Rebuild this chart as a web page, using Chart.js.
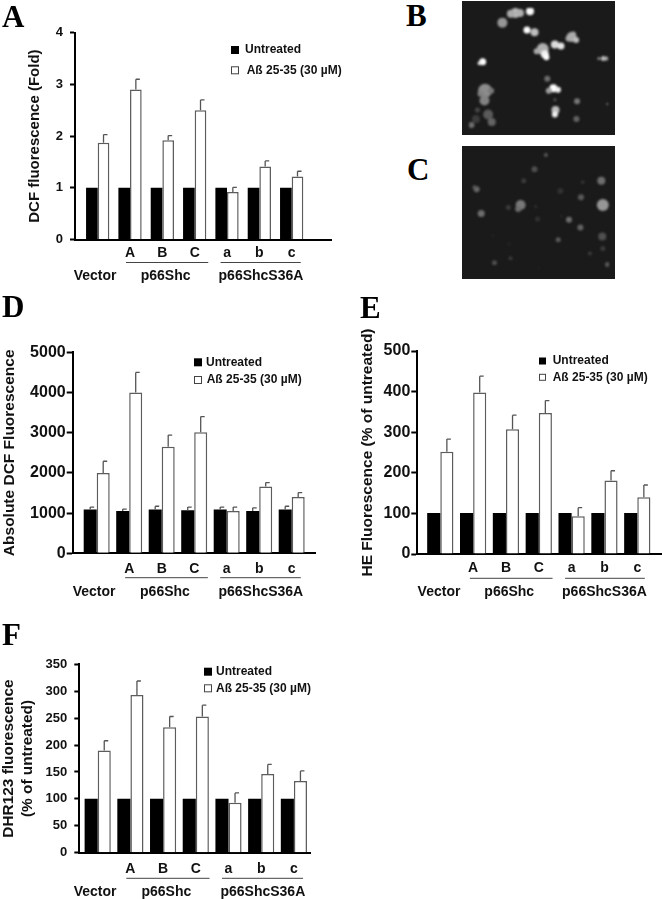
<!DOCTYPE html>
<html><head><meta charset="utf-8">
<script src="https://cdn.jsdelivr.net/npm/chart.js@4"></script>
<style>
html,body{margin:0;padding:0;background:#fff;width:662px;height:899px;overflow:hidden}
canvas{position:absolute;display:block}
.letter{position:absolute;font:bold 31px "Liberation Serif",serif;color:#000;line-height:31px;transform-origin:0 100%}
.micro{position:absolute;background:#1a1a1a;overflow:hidden;border:0}
.micro canvas{filter:blur(1.3px);left:0;top:0}
</style></head><body>
<script>
const tickLabels=['','A','B','C','a','b','c'];
const seriesNames=['Untreated','A\u00DF 25-35 (30 \u00B5M)'];
const groupNames=['Vector','p66Shc','p66ShcS36A'];

const aUntreated=[1,1,1,1,1,1,1];
const aTreated=[1.87,2.9,1.92,2.5,0.92,1.41,1.22];
const aTreatedTop=[2.03,3.1,2.01,2.7,1.01,1.52,1.32];

const dUntreated=[1090,1050,1090,1070,1090,1050,1090];
const dUntreatedTop=[1150,1100,1170,1150,1150,1130,1170];
const dTreated=[2000,4000,2650,3010,1050,1660,1400];
const dTreatedTop=[2290,4500,2940,3400,1150,1760,1510];

const eUntreated=[101,101,101,101,101,101,101];
const eTreated=[252,398,307,347,93,181,140];
const eTreatedTop=[283,438,342,378,114,205,170];

const fUntreated=[100,100,100,100,100,100,100];
const fTreated=[190,293,233,253,93,146,133];
const fTreatedTop=[208,319,253,274,111,164,152];

// micrograph spots: x, y, radius, grey level
const bSpots=[[340,20,5,185],[325,22,4,170],[355,20,4,175],[388,14,4,250],[297,52,5,150],[378,77,3.5,255],[403,84,4,190],[525,100,5,170],[530,92,3,170],[540,110,3,190],[515,105,3,170],[470,125,4,220],[490,130,3.5,230],[430,140,6,175],[410,148,3,170],[437,158,4,240],[442,168,3,255],[232,183,3.5,255],[222,188,2,230],[630,172,2.5,190],[615,172,1.5,150],[640,172,2,170],[445,240,3,110],[465,272,4,255],[480,277,3,240],[450,280,3,160],[470,310,1.5,90],[472,345,4,190],[470,360,3,240],[543,315,3,120],[541,375,3,100],[240,280,7,140],[225,290,3,130],[260,280,3,120],[238,313,5,130],[215,345,2.5,70],[250,360,5,90],[262,385,4,100],[210,375,4,60],[195,395,3,110],[643,325,1,150]];
const cSpots=[[440,447,2,90],[403,494,3,80],[368,532,2.5,60],[215,560,3,105],[208,553,2,90],[620,532,4,110],[560,537,2,50],[487,566,3,50],[554,586,3,90],[358,612,5,120],[350,625,3,110],[318,620,2.5,60],[407,617,1.5,50],[625,612,6,150],[230,640,3.5,110],[413,658,2.5,50],[515,660,3,110],[552,686,3,100],[268,712,1.5,35],[480,726,2.5,90],[623,716,4,80],[320,740,2,35],[625,755,2.5,60],[583,772,2,60],[273,802,2.5,80],[325,787,2,60],[640,808,2.5,90],[417,820,1,40],[490,648,1.5,40],[407,704,1,30]];

const FF='"Liberation Sans",Arial,sans-serif';

const barDecor={
 id:'barDecor',
 afterDatasetsDraw(chart,args,o){
  const c=chart.ctx,yS=chart.scales.y,xS=chart.scales.x;
  c.save();
  chart.data.datasets.forEach((ds,i)=>{
   if(!ds.tops)return;
   const m=chart.getDatasetMeta(i);
   ds.tops.forEach((t,j)=>{
    const px=m.data[j].x,y1=yS.getPixelForValue(ds.data[j].y),y2=yS.getPixelForValue(t);
    c.strokeStyle='#555';c.lineWidth=1.3;
    c.beginPath();c.moveTo(px,y1);c.lineTo(px,y2);c.moveTo(px,y2);c.lineTo(px+o.cap,y2);c.stroke();
   });
  });
  c.fillStyle='#111';c.textAlign='center';c.textBaseline='middle';c.font='bold '+o.rowFont+'px '+FF;
  o.groups.forEach((g,i)=>{
   c.fillText(groupNames[i],xS.getPixelForValue(g.at),o.groupY-o.top);
   if(g.from!==undefined){
    c.strokeStyle='#444';c.lineWidth=1;c.beginPath();
    c.moveTo(xS.getPixelForValue(g.from),o.lineY-o.top);c.lineTo(xS.getPixelForValue(g.to),o.lineY-o.top);c.stroke();
   }
  });
  c.textAlign='left';c.font='bold '+o.legFont+'px '+FF;
  chart.data.datasets.forEach((ds,i)=>{
   const y=o.legY[i]-o.top,x=o.legX-o.left,s=o.legS;
   if(i===0){c.fillStyle='#000';c.fillRect(x,y-s/2,s,s);}
   else{c.fillStyle='#fff';c.strokeStyle='#444';c.lineWidth=1;c.fillRect(x,y-s/2,s,s);c.strokeRect(x+.5,y-s/2+.5,s-1,s-1);}
   c.fillStyle='#111';c.fillText(ds.label,o.legTextX[i]-o.left,y);
  });
  c.restore();
 }
};

function makeBarPanel(p){
 const cv=document.createElement('canvas');
 cv.width=p.w;cv.height=p.h;cv.style.left=p.left+'px';cv.style.top=p.top+'px';
 document.body.appendChild(cv);
 const toXY=a=>a.map((v,i)=>({x:i,y:v}));
 new Chart(cv,{
  type:'bar',
  data:{datasets:[
   {label:seriesNames[0],data:toXY(p.untreated),tops:p.untreatedTop,backgroundColor:'#000',borderWidth:0,barPercentage:1,categoryPercentage:p.cat},
   {label:seriesNames[1],data:toXY(p.treated),tops:p.treatedTop,backgroundColor:'#fff',borderColor:'#5c5c5c',borderWidth:1.5,barPercentage:1,categoryPercentage:p.cat}
  ]},
  plugins:[barDecor],
  options:{
   responsive:false,animation:false,devicePixelRatio:1,
   layout:{padding:{left:0,top:p.yTop-p.top,right:p.left+p.w-p.axisR,bottom:0}},
   plugins:{legend:{display:false},tooltip:{enabled:false},
    barDecor:{left:p.left,top:p.top,cap:p.cap,groups:p.groups,groupY:p.groupY,lineY:p.lineY,rowFont:p.rowFont,
     legFont:p.legFont,legX:p.legX,legY:p.legY,legS:p.legS,legTextX:p.legTextX}},
   scales:{
    x:{type:'linear',offset:false,min:(p.axisL-p.c0)/p.pitch,max:(p.axisR-p.c0)/p.pitch,
     afterFit:s=>{s.height=p.top+p.h-p.yBot;},
     afterBuildTicks:s=>{s.ticks=tickLabels.map((_,i)=>({value:i}));},
     grid:{display:false,drawTicks:false},border:{display:true,color:'#000',width:2},
     ticks:{autoSkip:false,maxRotation:0,padding:p.xPad,color:'#111',font:{family:FF,weight:'bold',size:p.rowFont},callback:(v,i)=>tickLabels[i]}},
    y:{min:0,max:p.yMax,
     afterFit:s=>{s.width=p.axisL-p.left;},
     grid:{drawOnChartArea:false,drawTicks:true,tickLength:p.tick,tickColor:'#000',tickWidth:2},
     border:{display:true,color:'#000',width:2},
     ticks:{stepSize:p.step,padding:p.yPad,color:'#111',font:{family:FF,weight:'bold',size:p.yFont},callback:v=>String(v)},
     title:{display:true,text:p.title,color:'#111',font:{family:FF,weight:'bold',size:p.titleFont,lineHeight:p.titleLH},padding:{top:p.titlePad,bottom:0}}}
   }
  }
 });
}

const spanA=[{at:-0.08},{at:2.1,from:0.875,to:3.42},{at:5.05,from:3.8,to:6.28}];

makeBarPanel({left:0,top:0,w:360,h:290,axisL:75,axisR:331,yTop:32.7,yBot:239.5,c0:97.7,pitch:32.33,cat:0.72,cap:4,
 yMax:4,step:1,tick:5,yPad:7,xPad:5,yFont:13,rowFont:14,legFont:12,titleFont:15,titleLH:1.2,titlePad:26,title:'DCF fluorescence (Fold)',
 untreated:aUntreated,treated:aTreated,treatedTop:aTreatedTop,groups:spanA,groupY:276,lineY:262.5,
 legX:231,legY:[50,70.3],legS:8,legTextX:[245,246.7]});

makeBarPanel({left:0,top:290,w:350,h:310,axisL:72.7,axisR:315,yTop:352.3,yBot:553.3,c0:96.7,pitch:32.5,cat:0.8,cap:4,
 yMax:5000,step:1000,tick:6,yPad:1,xPad:7,yFont:16,rowFont:14,legFont:12,titleFont:15.5,titleLH:1.2,titlePad:0,title:'Absolute DCF Fluorescence',
 untreated:dUntreated,untreatedTop:dUntreatedTop,treated:dTreated,treatedTop:dTreatedTop,groups:spanA,groupY:591.7,lineY:577.7,
 legX:194,legY:[362.3,380],legS:8,legTextX:[206,206.7]});

const spanE=[{at:-0.04},{at:2.1,from:0.9,to:3.42},{at:5,from:3.8,to:6.23}];
makeBarPanel({left:350,top:290,w:312,h:310,axisL:417.3,axisR:662,yTop:351,yBot:554,c0:440.3,pitch:32.83,cat:0.8,cap:4,
 yMax:500,step:100,tick:6,yPad:1,xPad:6,yFont:16,rowFont:14,legFont:12,titleFont:15.5,titleLH:1.2,titlePad:8,title:'HE Fluorescence (% of untreated)',
 untreated:eUntreated,treated:eTreated,treatedTop:eTreatedTop,groups:spanE,groupY:591.7,lineY:578.3,
 legX:539,legY:[361,377.3],legS:7,legTextX:[552.7,552.7]});

makeBarPanel({left:0,top:610,w:350,h:289,axisL:79.3,axisR:310.7,yTop:664.3,yBot:852.7,c0:97.7,pitch:32.7,cat:0.8,cap:4,
 yMax:350,step:50,tick:5,yPad:7,xPad:8,yFont:13,rowFont:14,legFont:12,titleFont:15.4,titleLH:1.2,titlePad:0,title:['DHR123 fluorescence','(% of untreated)'],
 untreated:fUntreated,treated:fTreated,treatedTop:fTreatedTop,groups:spanA,groupY:891.7,lineY:878.3,
 legX:204,legY:[671.7,688.3],legS:8,legTextX:[216,216]});

function makeMicro(left,top,w,h,x0,x1,y0,y1,spots){
 const box=document.createElement('div');box.className='micro';
 box.style.cssText=`left:${left}px;top:${top}px;width:${w}px;height:${h}px`;
 document.body.appendChild(box);
 const cv=document.createElement('canvas');cv.width=w;cv.height=h;box.appendChild(cv);
 new Chart(cv,{type:'bubble',
  data:{datasets:[{data:spots.map(s=>({x:s[0],y:s[1],r:s[2]})),
   backgroundColor:spots.map(s=>`rgb(${s[3]},${s[3]},${s[3]})`),borderWidth:0}]},
  options:{responsive:false,animation:false,devicePixelRatio:1,layout:{padding:0},
   plugins:{legend:{display:false},tooltip:{enabled:false}},
   scales:{x:{display:false,min:x0,max:x1},y:{display:false,min:y0,max:y1,reverse:true}}}});
}
makeMicro(462,1,153,134,187,645,3,405,bSpots);
makeMicro(462,146,153,133,187,645,437,836,cSpots);

[['A',2,25],['B',406,24],['C',407,178],['D',2,315],['E',360,316],['F',2,643]].forEach(([t,x,b])=>{
 const s=document.createElement('div');s.className='letter';s.textContent=t;
 s.style.left=x+'px';s.style.top=(b-24)+'px';document.body.appendChild(s);
});
</script>
</body></html>
